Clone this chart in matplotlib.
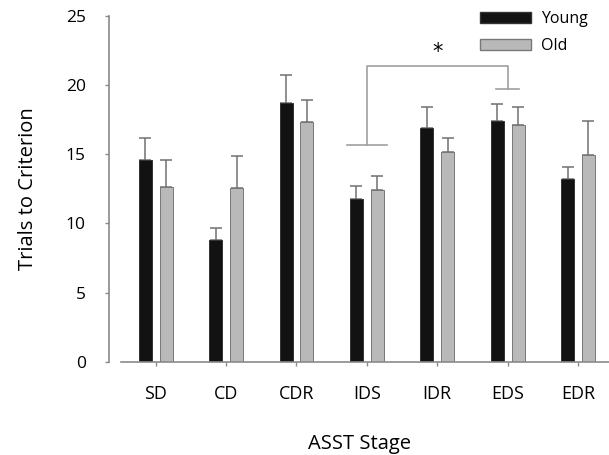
import numpy as np
import matplotlib
matplotlib.use("Agg")
import matplotlib.pyplot as plt
from matplotlib.patches import Patch

# values
stages = ["SD", "CD", "CDR", "IDS", "IDR", "EDS", "EDR"]
young = [14.6, 8.8, 18.7, 11.8, 16.9, 17.4, 13.2]
young_err = [1.6, 0.9, 2.0, 0.9, 1.55, 1.2, 0.9]
old = [12.65, 12.55, 17.35, 12.4, 15.15, 17.1, 14.95]
old_err = [1.9, 2.35, 1.6, 1.0, 1.0, 1.35, 2.45]

# significance bracket between IDS and EDS
bracket_left, bracket_right = 3, 5
bracket_top = 21.4
left_cap_y, right_cap_y = 15.7, 19.7

plt.rcParams["font.family"] = ["Open Sans", "DejaVu Sans"]

fig = plt.figure(figsize=(6.09, 4.55), dpi=100)
ax = fig.add_axes((0.1795, 0.205, 0.8205, 0.760))

x = np.arange(len(stages))
w = 0.185
off = 0.148
ax.bar(x - off, young, w, color="#121212", edgecolor="#333333", linewidth=0.7,
       label="Young", zorder=2)
ax.bar(x + off, old, w, color="#b9b9b9", edgecolor="#777777", linewidth=0.7,
       label="Old", zorder=2)
ax.errorbar(x - off, young, yerr=[np.zeros(len(x)), young_err], fmt="none",
            ecolor="#707070", elinewidth=1.1, capsize=4, capthick=1.1, zorder=1)
ax.errorbar(x + off, old, yerr=[np.zeros(len(x)), old_err], fmt="none",
            ecolor="#707070", elinewidth=1.1, capsize=4, capthick=1.1, zorder=1)

# bracket
bc = "#a0a0a0"
ax.plot([bracket_left, bracket_left, bracket_right, bracket_right],
        [left_cap_y, bracket_top, bracket_top, right_cap_y], color=bc, lw=1.2)
ax.plot([bracket_left - 0.28, bracket_left + 0.28], [left_cap_y, left_cap_y], color=bc, lw=1.2)
ax.plot([bracket_right - 0.16, bracket_right + 0.16], [right_cap_y, right_cap_y], color=bc, lw=1.2)
ax.text((bracket_left + bracket_right) / 2, 22.4, "*", ha="center", va="center",
        fontsize=15, family="DejaVu Sans")

ax.set_xlim(-0.659, 6.44)
ax.set_ylim(0, 25)
ax.set_xticks(x)
ax.set_xticklabels(stages)
ax.set_yticks([0, 5, 10, 15, 20, 25])

for s in ["top", "right"]:
    ax.spines[s].set_visible(False)
for s in ["left", "bottom"]:
    ax.spines[s].set_color("#8a8a8a")
    ax.spines[s].set_linewidth(1.2)
ax.spines["bottom"].set_bounds(-0.49, 6.44)
ax.tick_params(axis="both", colors="#8a8a8a", length=3, width=1, labelcolor="black")
ax.tick_params(axis="x", pad=14, labelsize=13)
ax.tick_params(axis="y", pad=14, labelsize=12.5)

ax.set_xlabel("ASST Stage", fontsize=14.5, labelpad=22)
ax.set_ylabel("Trials to Criterion", fontsize=14.5, labelpad=20)

handles = [Patch(facecolor="#121212", edgecolor="#333333", label="Young"),
           Patch(facecolor="#b9b9b9", edgecolor="#777777", label="Old")]
fig.legend(handles=handles, loc="upper left", bbox_to_anchor=(480 / 609, 1 - 11 / 455),
           frameon=False, fontsize=11.5, handlelength=3.2, handleheight=0.65,
           handletextpad=0.65, labelspacing=0.7, borderpad=0, borderaxespad=0)

fig.savefig("out.png", dpi=100)
